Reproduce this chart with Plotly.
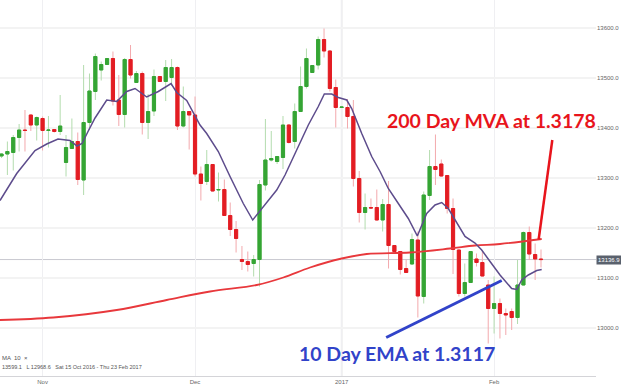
import plotly.graph_objects as go

# ---- candle data, index = trading session ----
opens = [13344,13348,13351,13381,13396,13426,13406,13419,13395,13397,
         13393,13331,13359,13373,13296,13411,13473,13516,13527,13539,
         13456,13427,13537,13491,13509,13411,13434,13503,13493,13501,
         13521,13404,13433,13426,13308,13293,13327,13276,13277,13225,
         13197,13137,13133,13129,13137,13286,13336,13333,13341,13406,
         13373,13433,13483,13511,13526,13577,13554,13481,13441,13441,
         13423,13299,13231,13241,13241,13216,13247,13165,13153,13119,
         13128,13176,13063,13265,13323,13328,13305,13239,13156,13069,
         13091,13138,13131,13086,13039,13049,13029,13033,13021,13086,
         13191,13147,13138]
highs = [13350,13373,13386,13408,13436,13427,13423,13423,13424,13398,
         13466,13386,13419,13391,13526,13509,13549,13533,13540,13553,
         13506,13540,13566,13514,13513,13468,13517,13504,13536,13538,
         13523,13483,13434,13463,13323,13356,13328,13311,13297,13251,
         13214,13164,13153,13146,13296,13418,13394,13344,13424,13408,
         13449,13523,13559,13526,13583,13599,13556,13497,13443,13458,
         13456,13314,13269,13259,13277,13258,13294,13166,13154,13137,
         13189,13193,13273,13356,13387,13337,13306,13259,13157,13129,
         13153,13149,13153,13096,13103,13059,13039,13039,13136,13193,
         13203,13169,13157]
lows = [13340,13306,13315,13353,13353,13394,13375,13355,13361,13391,
        13386,13303,13359,13286,13266,13396,13456,13495,13526,13445,
        13404,13401,13499,13490,13387,13378,13424,13492,13454,13484,
        13396,13401,13357,13303,13255,13286,13273,13253,13224,13184,
        13151,13116,13113,13103,13083,13275,13333,13328,13318,13369,
        13359,13432,13479,13510,13517,13541,13473,13401,13440,13399,
        13283,13211,13197,13239,13215,13193,13119,13152,13107,13110,
        13126,13021,13049,13256,13286,13303,13229,13108,13063,13063,
        13090,13123,13103,12969,12989,12979,12986,12996,13008,13085,
        13136,13096,13121]
closes = [13348,13353,13381,13396,13395,13406,13421,13395,13396,13393,
          13404,13361,13373,13297,13411,13474,13543,13527,13539,13454,
          13427,13537,13506,13509,13411,13433,13503,13493,13521,13521,
          13404,13433,13426,13308,13289,13327,13274,13277,13225,13197,
          13179,13133,13127,13137,13287,13336,13339,13343,13406,13371,
          13433,13483,13539,13525,13577,13554,13479,13441,13442,13423,
          13299,13231,13241,13240,13216,13247,13165,13153,13117,13111,
          13177,13064,13266,13323,13317,13304,13239,13157,13069,13091,
          13153,13131,13104,13039,13049,13029,13026,13021,13086,13191,
          13148,13138,13136.9]

# ---- 10-period EMA ----
ema_x = [-0.26,2.59,5.71,7.71,9.63,11.68,12.88,13.73,14.75,15.95,17.94,19.65,
         21.35,22.77,24.76,26.74,28.91,29.88,31.58,33.0,33.85,34.99,36.97,38.97,
         41.23,42.84,43.52,45.23,46.93,48.35,50.61,52.32,54.02,55.05,56.31,57.44,
         58.87,59.72,61.43,63.13,64.55,65.96,67.67,69.37,70.91,72.51,73.93,75.07,
         76.19,77.51,79.04,80.75,81.89,83.31,85.01,87.0,87.86,88.71,89.84,91.27,92.12]
ema_v = [13255,13309,13355,13368,13378,13375,13364,13369,13393,13420,13456,13453,
         13473,13479,13462,13473,13489,13471,13455,13425,13406,13389,13353,13303,
         13249,13216,13226,13253,13276,13306,13363,13406,13443,13468,13468,13461,
         13456,13439,13389,13343,13313,13279,13249,13219,13184,13229,13246,13251,
         13239,13213,13183,13170,13156,13133,13106,13079,13077,13096,13106,13115,13117]

# ---- 200-period moving average ----
ma_x = [-0.26,8.83,19.65,28.17,35.56,43.52,48.06,52.61,58.02,62.28,69.66,76.48,80.75,85.01,92.12]
ma_v = [13016,13021,13036,13056,13073,13086,13101,13121,13139,13148,13151,13159,13165,13168,13178]

# ---- axis ticks ----
x_tick_vals = [7, 33, 58, 84]
x_tick_text = ["Nov", "Dec", "2017", "Feb"]
y_tick_vals = [13000, 13100, 13200, 13300, 13400, 13500, 13600]
last_price = 13136.9

# ---- annotation pointer lines ----
mva_pointer_x = [91.6, 93.93]
mva_pointer_v = [13177, 13376]
ema_pointer_x = [65.6, 85.3]
ema_pointer_v = [12981, 13095]

idx = list(range(len(opens)))
body_hi = [max(o, c) for o, c in zip(opens, closes)]
body_lo = [min(o, c) for o, c in zip(opens, closes)]

GREEN = "#35a534"
RED = "#e31d23"

fig = go.Figure()
# wicks (light)
fig.add_trace(go.Candlestick(
    x=idx, open=opens, high=highs, low=lows, close=closes,
    increasing=dict(line=dict(color="#b3dcae", width=1), fillcolor=GREEN),
    decreasing=dict(line=dict(color="#f3a9ad", width=1), fillcolor=RED),
    whiskerwidth=0, showlegend=False, hoverinfo="skip"))
# solid bodies
fig.add_trace(go.Candlestick(
    x=idx, open=opens, high=body_hi, low=body_lo, close=closes,
    increasing=dict(line=dict(color=GREEN, width=1), fillcolor=GREEN),
    decreasing=dict(line=dict(color=RED, width=1), fillcolor=RED),
    whiskerwidth=0, showlegend=False, hoverinfo="skip"))

fig.add_trace(go.Scatter(x=ma_x, y=ma_v, mode="lines",
                         line=dict(color="#e8383c", width=1.8, shape="spline"),
                         showlegend=False, hoverinfo="skip"))
fig.add_trace(go.Scatter(x=ema_x, y=ema_v, mode="lines",
                         line=dict(color="#5d4c8c", width=1.5),
                         showlegend=False, hoverinfo="skip"))
fig.add_trace(go.Scatter(x=mva_pointer_x, y=mva_pointer_v, mode="lines",
                         line=dict(color="#e8141c", width=2.5),
                         showlegend=False, hoverinfo="skip"))
fig.add_trace(go.Scatter(x=ema_pointer_x, y=ema_pointer_v, mode="lines",
                         line=dict(color="#3143c9", width=3),
                         showlegend=False, hoverinfo="skip"))

# current price line and year separator
fig.add_shape(type="line", xref="paper", x0=0, x1=1, yref="y", y0=last_price, y1=last_price,
              line=dict(color="#c9c9d0", width=1), layer="below")
fig.add_shape(type="line", xref="x", x0=58, x1=58, yref="paper", y0=0, y1=1,
              line=dict(color="#dcdcdc", width=1.5), layer="below")

fig.add_annotation(xref="paper", x=1, y=last_price, text="13136.9", showarrow=False,
                   xanchor="left", xshift=0, bgcolor="#5a616d", borderpad=1,
                   font=dict(family="Liberation Sans", size=6, color="white"))

fig.add_annotation(x=65.4, y=13416, text="<b>200 Day MVA at 1.3178</b>", showarrow=False,
                   xanchor="left", yanchor="middle",
                   font=dict(family="Lato", size=19.5, color="#e8141c"))
fig.add_annotation(x=50.4, y=12950, text="<b>10 Day EMA at 1.3117</b>", showarrow=False,
                   xanchor="left", yanchor="middle",
                   font=dict(family="Lato", size=19.5, color="#3143c9"))

fig.add_annotation(xref="paper", yref="paper", x=0, y=0.049, text="MA  10  ×",
                   showarrow=False, xanchor="left", yanchor="middle",
                   font=dict(family="Liberation Sans", size=6, color="#555"))
fig.add_annotation(xref="paper", yref="paper", x=0, y=0.025,
                   text="13599.1   L 12968.6   Sat 15 Oct 2016 - Thu 23 Feb 2017",
                   showarrow=False, xanchor="left", yanchor="middle",
                   font=dict(family="Liberation Sans", size=5.5, color="#555"))

fig.update_layout(
    width=621, height=384,
    margin=dict(l=0, r=25, t=0, b=8),
    paper_bgcolor="white", plot_bgcolor="white",
    boxgap=0.23,
    xaxis=dict(range=[-0.26, 101.38], rangeslider=dict(visible=False),
               tickvals=x_tick_vals, ticktext=x_tick_text,
               showgrid=True, gridcolor="#efeff2", gridwidth=1,
               zeroline=False, showline=True, linecolor="#d4d4d8", ticks="",
               tickfont=dict(family="Liberation Sans", size=6, color="#666")),
    yaxis=dict(range=[12904, 13656], side="right", tickvals=y_tick_vals,
               tickformat=".1f", showgrid=True, gridcolor="#f3f3f3", gridwidth=1.5,
               zeroline=False, showline=False, ticks="",
               tickfont=dict(family="Liberation Sans", size=6, color="#666")),
)

fig.write_html("out.html", config={"displayModeBar": False},
               post_script="document.body.style.margin='0';document.body.style.overflow='hidden';")
